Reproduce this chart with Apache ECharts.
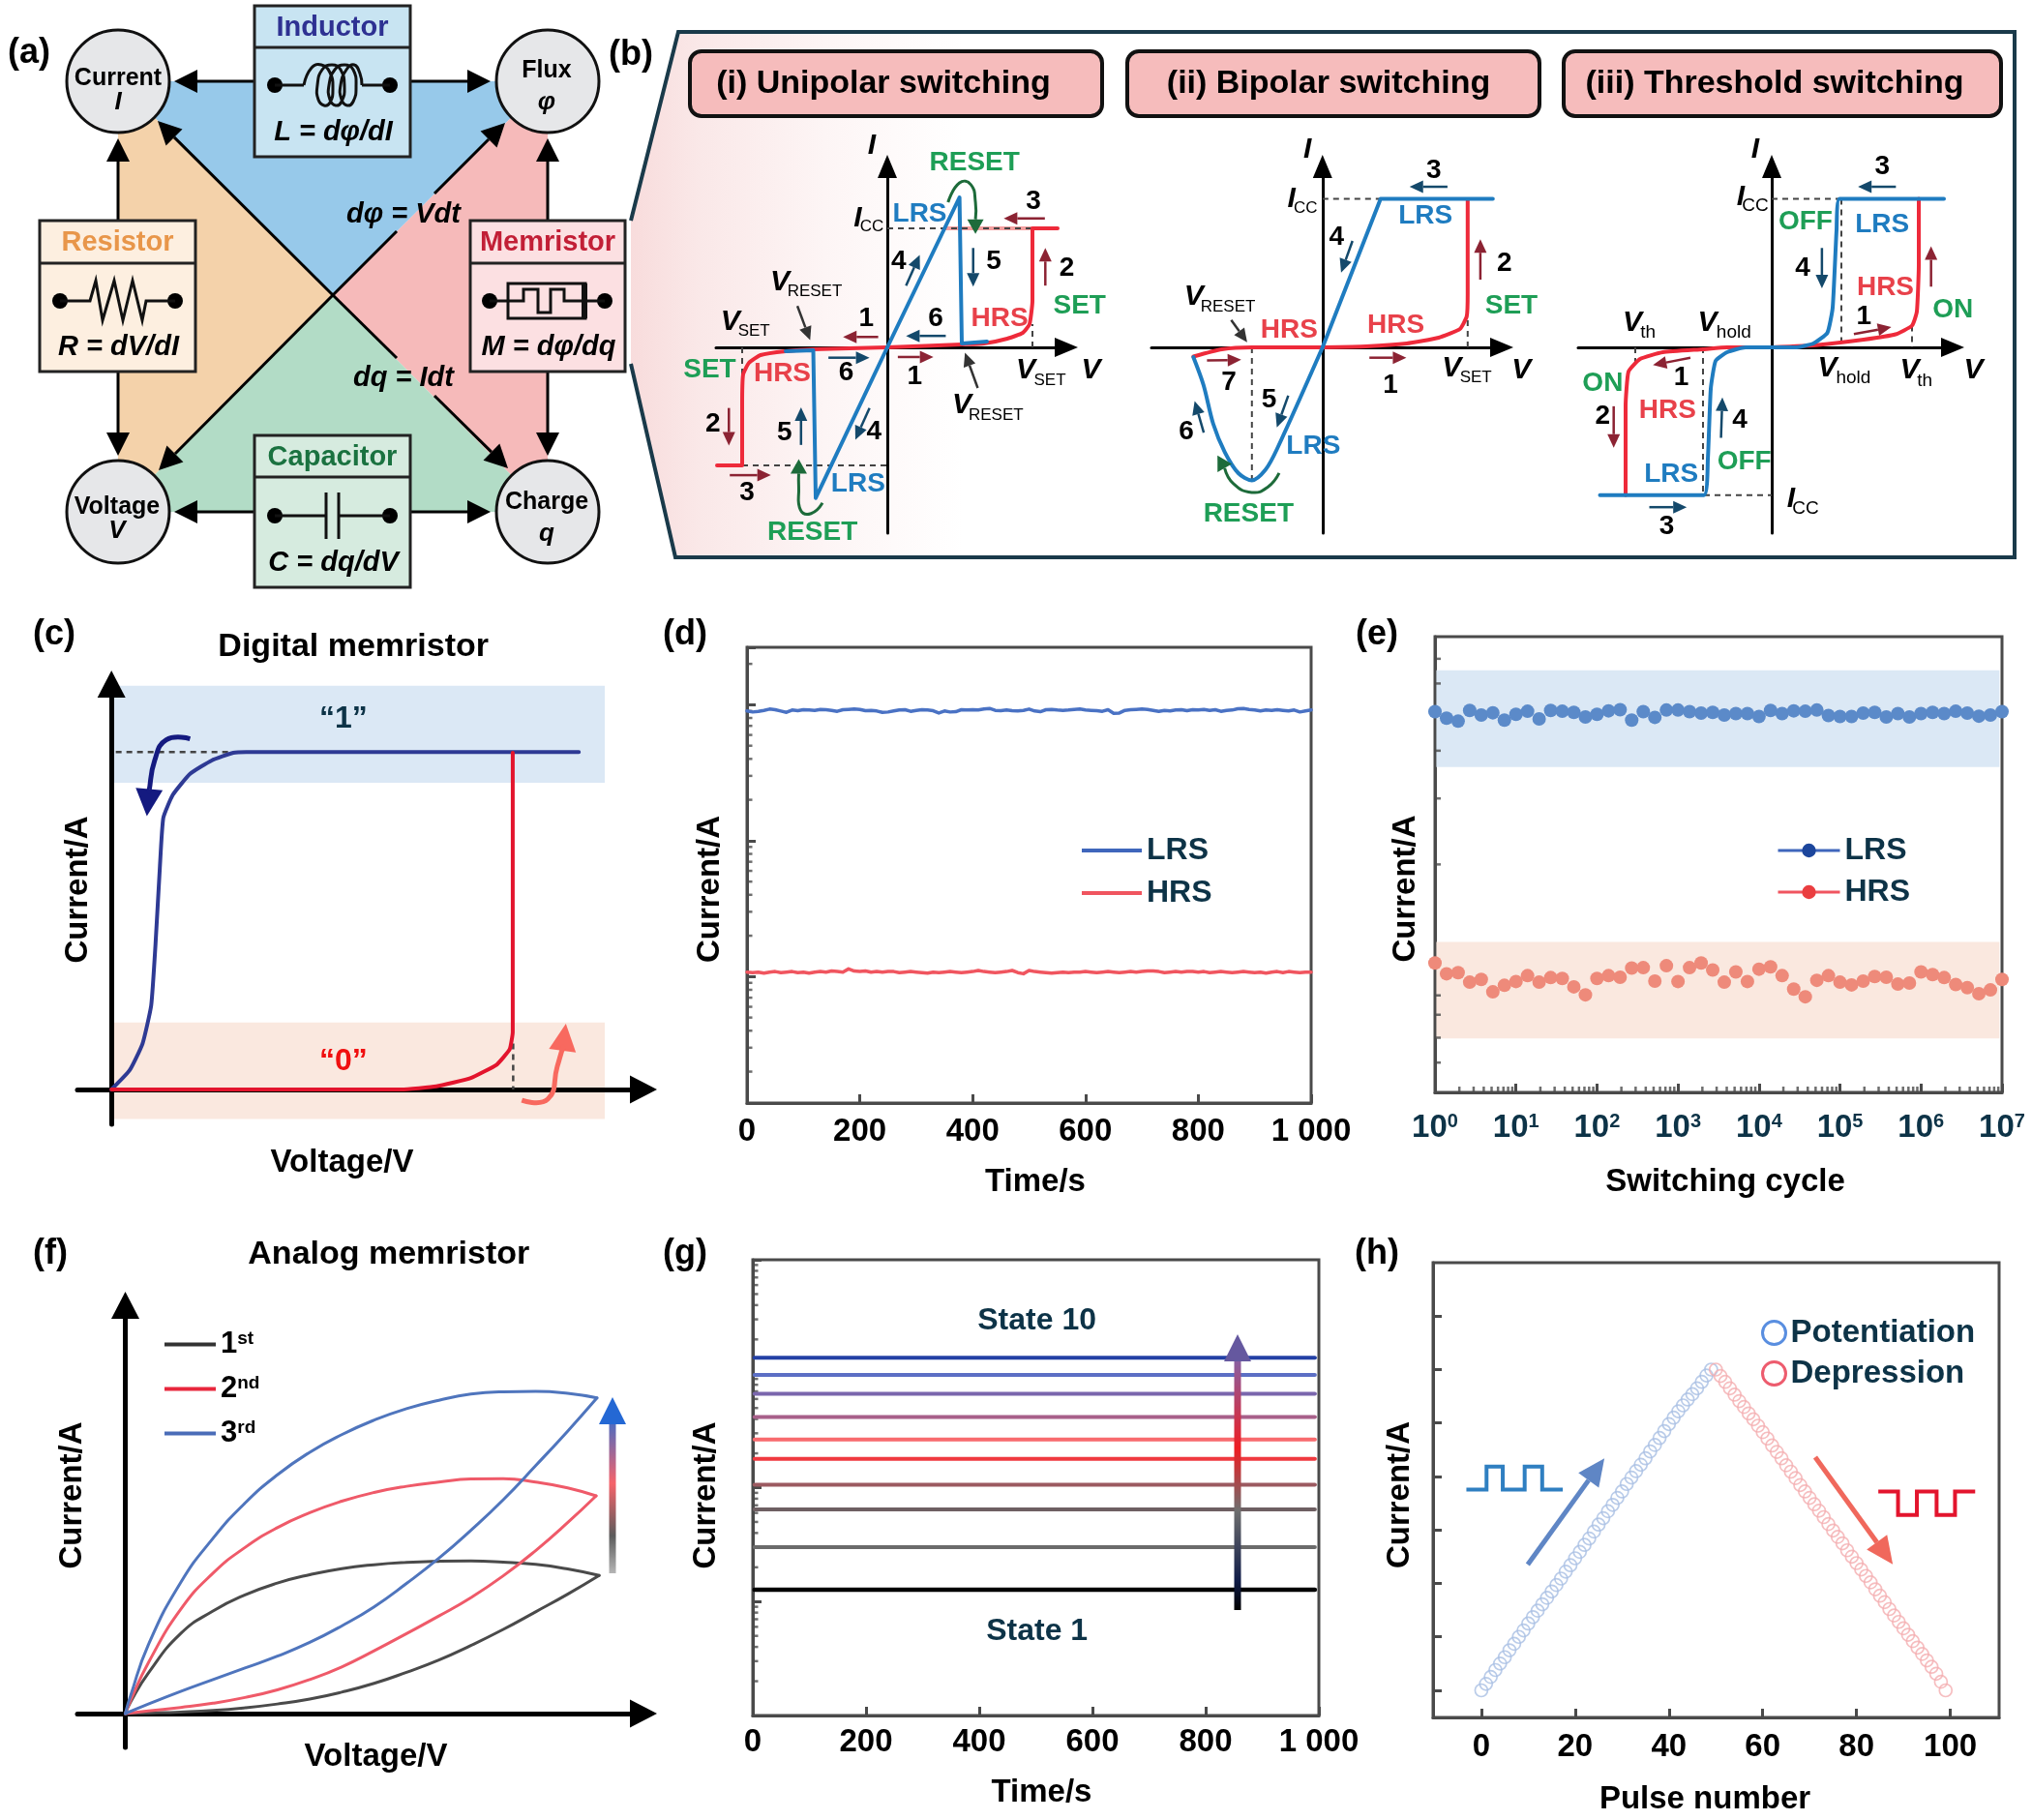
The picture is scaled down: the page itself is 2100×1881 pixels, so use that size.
<!doctype html>
<html><head><meta charset="utf-8">
<style>html,body{margin:0;background:#fff}#c{width:2100px;height:1881px}</style>
<script src="https://cdn.jsdelivr.net/npm/echarts@6/dist/echarts.min.js"></script>
</head><body><div id="c"></div>
<script>
// ---------- DATA: panel b (V, I in schematic units) ----------
const uniRedPos=[[0,0],[.77,.03],[1,.04],[1.24,.09],[1.4,.15],[1.47,.24],[1.5,.48],[1.5,1.23],[1.76,1.23]];
const uniRedNeg=[[0,0],[-.765,-.02],[-1.05,-.04],[-1.31,-.08],[-1.43,-.16],[-1.49,-.28],[-1.5,-.6],[-1.5,-1.22],[-1.76,-1.22]];
const uniBluePos=[[0,0],[.746,1.55],[.77,.04],[1.03,.06]];
const uniBlueNeg=[[0,0],[-.74,-1.556],[-.765,-.03],[-1.05,-.04]];
const uniDash=[[[0,1.23],[1.5,1.23]],[[1.5,0],[1.5,.24]],[[-1.5,-.28],[-1.5,0]],[[-1.5,-1.22],[0,-1.22]]];
const biRedPos=[[0,0],[.45,.01],[.87,.04],[1.2,.1],[1.42,.19],[1.49,.32],[1.5,.55],[1.5,1.53]];
const biBluePos=[[0,0],[.6,1.534],[1.76,1.534]];
const biBlueNeg=[[0,0],[-.47,-1.05],[-.59,-1.265],[-.73,-1.374],[-.87,-1.3],[-1.01,-1.083],[-1.13,-.79],[-1.23,-.39],[-1.335,-.1]];
const biRedNeg=[[0,0],[-.73,0],[-1.04,-.02],[-1.335,-.095]];
const biDash=[[[0,1.534],[.6,1.534]],[[1.5,0],[1.5,.3]],[[-.73,0],[-.73,-1.374]]];
const thRedPos=[[0,0],[.48,.025],[.95,.08],[1.28,.135],[1.45,.225],[1.5,.37],[1.52,.85],[1.52,1.534]];
const thBluePos=[[0,0],[.245,0],[.43,.04],[.575,.15],[.63,.41],[.67,1.21],[.7,1.534],[1.78,1.534]];
const thRedNeg=[[0,0],[-.46,0],[-.71,-.02],[-1.125,-.05],[-1.36,-.12],[-1.48,-.25],[-1.51,-.61],[-1.51,-1.527]];
const thBlueNeg=[[0,0],[-.27,0],[-.46,-.05],[-.58,-.14],[-.63,-.43],[-.66,-1.155],[-.7,-1.527],[-1.775,-1.527]];
const thDash=[[[0,1.534],[.7,1.534]],[[.72,1.534],[.72,0]],[[1.45,.225],[1.45,0]],[[-1.41,0],[-1.41,-.15]],[[-.71,0],[-.71,-1.527]],[[-.7,-1.527],[0,-1.527]]];
// ---------- panel c ----------
const cBlue=[[0,0],[4.2,5],[7.2,12],[9.2,22],[10.2,38],[11.2,58],[12,71],[14.2,77],[18.2,82.5],[23.2,86],[28.2,88],[31.2,88.2],[108.2,88.2]];
const cRed=[[0,0],[67.2,0],[75.2,.8],[83.2,3],[89.2,6.5],[92.2,10.5],[92.9,15],[92.9,88]];
const cDash=[[[1,88.2],[28,88.2]],[[93,12],[93,0]]];
// ---------- panel d ----------
const dLRS=[9.0,8.85,8.95,9.1,9.3,9.2,9.0,8.8,9.15,9.05,9.2,9.15,9.1,9.25,9.2,9.1,8.95,9.2,9.25,9.3,9.25,9.05,9.1,9.0,8.8,8.85,9.0,9.15,9.2,8.95,9.1,9.2,9.15,9.05,8.7,9.0,8.85,8.9,9.2,9.15,9.2,9.15,9.3,9.4,9.1,9.05,9.15,9.05,9.0,9.1,9.3,9.0,8.9,9.2,9.25,9.15,9.1,9.15,9.25,9.3,9.15,9.1,9.05,8.95,9.2,8.65,8.7,9.1,9.2,9.25,9.3,9.25,9.1,8.95,9.1,9.0,9.15,9.2,9.05,9.2,9.15,9.25,9.1,9.2,8.95,9.1,9.15,9.35,9.4,9.25,9.15,9.0,9.15,9.1,9.2,9.1,9.0,9.15,8.85,9.0,9.15];
const dHRS=[1.08,1.07,1.08,1.06,1.08,1.09,1.07,1.08,1.09,1.07,1.08,1.06,1.08,1.09,1.08,1.1,1.09,1.08,1.14,1.1,1.09,1.1,1.08,1.09,1.08,1.09,1.09,1.07,1.08,1.09,1.08,1.07,1.06,1.08,1.07,1.08,1.09,1.08,1.07,1.08,1.09,1.11,1.09,1.08,1.07,1.08,1.09,1.11,1.07,1.05,1.11,1.09,1.08,1.07,1.06,1.07,1.08,1.07,1.08,1.08,1.09,1.08,1.07,1.08,1.09,1.08,1.07,1.08,1.09,1.08,1.09,1.1,1.1,1.09,1.07,1.08,1.09,1.08,1.09,1.09,1.08,1.09,1.07,1.08,1.09,1.08,1.07,1.08,1.09,1.08,1.07,1.08,1.06,1.08,1.09,1.07,1.09,1.08,1.07,1.08,1.08];
// ---------- panel e (log10 of current, 50 switching samples) ----------
const eLRSlog=[-3.037,-3.085,-3.107,-3.028,-3.062,-3.045,-3.099,-3.056,-3.034,-3.09,-3.028,-3.034,-3.042,-3.076,-3.056,-3.031,-3.023,-3.099,-3.037,-3.079,-3.025,-3.025,-3.037,-3.048,-3.042,-3.062,-3.051,-3.051,-3.073,-3.028,-3.051,-3.031,-3.034,-3.025,-3.065,-3.073,-3.073,-3.048,-3.042,-3.076,-3.051,-3.076,-3.051,-3.042,-3.051,-3.034,-3.048,-3.07,-3.062,-3.037];
const eHRSlog=[-4.887,-4.966,-4.958,-5.028,-5.008,-5.099,-5.051,-5.023,-4.98,-5.028,-4.994,-5,-5.062,-5.121,-5,-4.98,-4.992,-4.924,-4.921,-5.02,-4.907,-5.023,-4.921,-4.887,-4.938,-5.028,-4.952,-5.023,-4.932,-4.915,-4.98,-5.079,-5.135,-5.014,-4.98,-5.028,-5.048,-5.02,-4.986,-4.992,-5.042,-5.034,-4.952,-4.972,-4.994,-5.045,-5.068,-5.113,-5.085,-5.008];
const eMinorY=[2.25e-3,1.48e-3,4.74e-4,2.11e-4,6.9e-5,7.5e-6,5.4e-6,3.66e-6,2.4e-6];
// ---------- panel f ----------
const f1Up=[[0,0],[1.2,3],[5.34,10.6],[12.8,20.9],[20.3,26.8],[27.7,31],[35.2,34.1],[42.7,36.3],[50.1,37.9],[57.6,38.9],[65.1,39.5],[72.6,39.8],[80,39.9],[87.5,39.6],[95,39],[102.4,37.8],[109.7,36.1]];
const f1Down=[[109.7,36.1],[102.4,31.2],[95,26.6],[87.5,22],[80,17.8],[72.6,14],[65.1,10.8],[57.6,7.9],[50.1,5.6],[42.7,3.8],[35.2,2.5],[27.7,1.5],[20.3,.8],[12.8,.4],[5.34,.15],[0,0]];
const f2Up=[[0,0],[1.2,3.4],[5.34,13.3],[12.8,27.2],[20.3,36.7],[27.7,43.4],[35.2,48.6],[42.7,52.5],[50.1,55.5],[57.6,57.8],[65.1,59.4],[72.6,60.5],[80,61.3],[87.5,61.4],[95,60.5],[102.4,59],[109,56.9]];
const f2Down=[[109,56.9],[102.4,49.9],[95,42.6],[87.5,36],[80,30.3],[72.6,25.5],[65.1,20.9],[57.6,16.4],[50.1,12.2],[42.7,8.9],[35.2,6.2],[27.7,4.2],[20.3,2.7],[12.8,1.6],[5.34,.7],[0,0]];
const f3Up=[[0,0],[1.2,4.6],[5.34,18],[12.8,34.2],[20.3,45.8],[27.7,55],[35.2,62.4],[42.7,68.3],[50.1,72.9],[57.6,76.7],[65.1,79.7],[72.6,81.9],[80,83.5],[87.5,84.1],[95,84.2],[102.4,83.7],[109.2,82.5]];
const f3Down=[[109.2,82.5],[102.4,73.8],[95,64.8],[87.5,55.9],[80,47.9],[72.6,40.6],[65.1,34],[57.6,27.9],[50.1,22.9],[42.7,18.6],[35.2,15],[27.7,11.9],[20.3,8.9],[12.8,5.8],[5.34,2.5],[0,0]];
// ---------- panel g ----------
const gLevels=[1.27e-8,3e-8,6.45e-8,1.06e-7,1.79e-7,2.65e-7,4.17e-7,6.65e-7,9.77e-7,1.38e-6];
const gColors=['#000000','#6b6b6b','#6e5f62','#9c5a60','#f0393f','#f86a6e','#a8608a','#7a66ad','#5c6fc5','#2340a5'];
// ---------- panel h ----------
const hPot=[0,.12,.25,.38,.5,.62,.75,.87,1,1.12,1.25,1.37,1.49,1.61,1.73,1.85,1.97,2.09,2.22,2.34,2.47,2.59,2.72,2.84,2.97,3.1,3.22,3.35,3.47,3.6,3.72,3.86,3.98,4.1,4.22,4.34,4.47,4.59,4.72,4.85,4.98,5.1,5.22,5.33,5.44,5.54,5.65,5.77,5.89,6];
const hDep=[6,5.88,5.77,5.65,5.53,5.41,5.3,5.18,5.07,4.95,4.83,4.71,4.58,4.46,4.34,4.21,4.09,3.97,3.84,3.72,3.6,3.48,3.36,3.24,3.11,2.99,2.87,2.75,2.62,2.5,2.38,2.26,2.14,2.02,1.89,1.77,1.65,1.52,1.4,1.28,1.16,1.04,.92,.8,.68,.56,.44,.31,.16,0];

// ---------- helpers ----------
const FF='"Liberation Sans"';
const RED='#ee2a3a',BLUE='#1f7cc0',GREEN='#1e9e56',DB='#14496b',DR='#8c2333',INK='#0d3347';
const grids=[],xAxes=[],yAxes=[],series=[];
function scheme(o){
  const i=grids.length;
  grids.push({left:o.l,top:o.t,width:o.r-o.l,height:o.b-o.t});
  const line=(sym)=>({show:true,onZero:true,symbol:['none','triangle'],symbolSize:sym,lineStyle:{color:'#000',width:o.lw}});
  xAxes.push(Object.assign({type:'value',gridIndex:i,z:3,min:(o.l-o.ox)/o.sx,max:(o.r-o.ox)/o.sx,axisLine:line(o.ah),axisTick:{show:false},axisLabel:{show:false},splitLine:{show:false}},o.xExtra||{}));
  yAxes.push(Object.assign({type:'value',gridIndex:i,z:3,min:(o.oy-o.b)/o.sy,max:(o.oy-o.t)/o.sy,axisLine:line(o.ah),axisTick:{show:false},axisLabel:{show:false},splitLine:{show:false}},o.yExtra||{}));
  return i;
}
function boxed(o){
  const i=grids.length;
  grids.push({left:o.l,top:o.t,width:o.r-o.l,height:o.b-o.t,show:true,borderColor:'#4a4a4a',borderWidth:3});
  xAxes.push(Object.assign({gridIndex:i,nameMoveOverlap:false,splitLine:{show:false},axisLine:{onZero:false,lineStyle:{color:'#4a4a4a',width:3}},axisTick:{inside:true,length:9,lineStyle:{color:'#4a4a4a',width:3}}},o.x));
  yAxes.push(Object.assign({gridIndex:i,nameMoveOverlap:false,splitLine:{show:false},axisLine:{onZero:false,lineStyle:{color:'#4a4a4a',width:3}},axisLabel:{show:false},axisTick:{inside:true,length:9,lineStyle:{color:'#4a4a4a',width:3}}},o.y));
  return i;
}
const nameSt=(pad)=>({fontSize:33,fontWeight:'bold',fontFamily:FF,color:'#000',padding:pad});
const L=(g,name,data,color,width,extra)=>series.push(Object.assign({type:'line',name,data,xAxisIndex:g,yAxisIndex:g,symbol:'none',clip:false,z:4,silent:true,lineStyle:{color,width,cap:'round',join:'round'},itemStyle:{color},animation:false},extra||{}));
const dash=(g,segs,w)=>segs.forEach(s=>L(g,'',s,'#444',w||2,{lineStyle:{color:'#444',width:w||2,type:[6,5]},z:3}));
const tickSeries=(g,data,size,off)=>series.push({type:'scatter',data,xAxisIndex:g,yAxisIndex:g,symbol:'rect',symbolSize:size,symbolOffset:off,itemStyle:{color:'#4a4a4a'},silent:true,clip:false,z:3,animation:false});
const logMinors=(a,b,lo,hi)=>{const r=[];for(let k=a;k<=b;k++)for(let m=2;m<=9;m++){const v=m*10**k;if(v>lo&&v<hi)r.push(v);}return r;};
const axisLab=(m,extra)=>Object.assign({fontSize:33,fontWeight:'bold',fontFamily:FF,color:'#000',margin:m,showMinLabel:true,showMaxLabel:true},extra||{});
const thous=v=>v===1000?'1 000':String(v);

// ---------- panel b grids ----------
const gI=scheme({ox:917,oy:359,sx:100,sy:100,l:740,r:1102,t:172,b:551,lw:3,ah:[20,24]});
dash(gI,uniDash);
L(gI,'',[[.59,1.23],[1.5,1.23]],'#f5a0a0',4,{z:2});
L(gI,'HRS+',uniRedPos,RED,4,{smooth:.15});L(gI,'HRS-',uniRedNeg,RED,4,{smooth:.15});
L(gI,'LRS+',uniBluePos,BLUE,4);L(gI,'LRS-',uniBlueNeg,BLUE,4);
const gII=scheme({ox:1366.8,oy:359,sx:100,sy:100,l:1190,r:1552,t:172,b:551,lw:3,ah:[20,24]});
dash(gII,biDash);
L(gII,'HRS+',biRedPos,RED,4,{smooth:.15});L(gII,'HRS-',biRedNeg,RED,4,{smooth:.2});
L(gII,'LRS+',biBluePos,BLUE,4);L(gII,'LRS-',biBlueNeg,BLUE,4,{smooth:.3});
const gIII=scheme({ox:1831,oy:359,sx:100,sy:100,l:1631,r:2018,t:172,b:551,lw:3,ah:[20,24]});
dash(gIII,thDash);
L(gIII,'HRS+',thRedPos,RED,4,{smooth:.15});L(gIII,'HRS-',thRedNeg,RED,4,{smooth:.15});
L(gIII,'LRS+',thBluePos,BLUE,4,{smooth:.15});L(gIII,'LRS-',thBlueNeg,BLUE,4,{smooth:.15});

// ---------- panel c ----------
const gC=scheme({ox:115.2,oy:1126,sx:4.464,sy:3.954,l:80,r:665,t:707,b:1162,lw:5,ah:[29,28],
  xExtra:{name:'Voltage/V',nameLocation:'middle',nameGap:23,nameMoveOverlap:false,nameTextStyle:nameSt([0,38,0,0])},
  yExtra:{name:'Current/A',nameLocation:'middle',nameGap:-17,nameMoveOverlap:false,nameTextStyle:nameSt([0,0,0,30])}});
dash(gC,cDash,2.5);
L(gC,'"1" state',cBlue,'#2e3a94',4,{smooth:.15,markArea:{silent:true,data:[[{xAxis:.4,yAxis:105.5,itemStyle:{color:'#dbe8f5'}},{xAxis:114.2,yAxis:80.2}],[{xAxis:.4,yAxis:17.5,itemStyle:{color:'#fae8df'}},{xAxis:114.2,yAxis:-7.7}]]}});
L(gC,'"0" state',cRed,'#e3142d',4,{smooth:.12});

// ---------- panel d ----------
const dMin=10**-5.93,dMax=10**-2.577;
const gD=boxed({l:772,r:1355,t:669,b:1140,
  x:{type:'value',min:0,max:1000,interval:200,axisLabel:axisLab(13,{formatter:thous}),name:'Time/s',nameLocation:'middle',nameGap:65,nameTextStyle:nameSt([0,0,0,13])},
  y:{type:'log',logBase:10,min:dMin,max:dMax,name:'Current/A',nameLocation:'middle',nameGap:22,nameTextStyle:nameSt([0,29,0,0])}});
const dT=(arr,sc)=>arr.map((v,i)=>[i*1000/(arr.length-1),v*sc]);
L(gD,'LRS',dT(dLRS,1e-4),'#4a72c4',3.5,{clip:true});
L(gD,'HRS',dT(dHRS,1e-5),'#f0555f',3.5,{clip:true});
tickSeries(gD,logMinors(-6,-3,dMin,dMax).map(v=>[0,v]),[5,2.5],[3,0]);

// ---------- panel e ----------
const eMinExp=-5.839,eMaxExp=-2.485;
const gE=boxed({l:1483,r:2069,t:658,b:1129,
  x:{type:'log',logBase:10,min:1,max:1e7,name:'Switching cycle',nameLocation:'middle',nameGap:76,nameTextStyle:nameSt([0,0,0,14]),
     axisLabel:axisLab(20,{formatter:v=>`{b|10}{s|${Math.round(Math.log10(v))}}`,rich:{b:{fontSize:33,fontWeight:'bold',fontFamily:FF,color:INK},s:{fontSize:20,fontWeight:'bold',fontFamily:FF,color:INK,verticalAlign:'top'}}})},
  y:{type:'log',logBase:10,min:10**eMinExp,max:10**eMaxExp,name:'Current/A',nameLocation:'middle',nameGap:14,nameTextStyle:nameSt([0,50,0,0]),axisTick:{show:false}}});
const eX=i=>10**(i/7);
const band=(a,b,c)=>[{xAxis:1.04,yAxis:10**a,itemStyle:{color:c}},{xAxis:9.3e6,yAxis:10**b}];
L(gE,'LRS ',eLRSlog.map((v,i)=>[eX(i),10**v]),'#5b8ac9',0,{symbol:'circle',symbolSize:14,showAllSymbol:true,lineStyle:{width:0,opacity:0},itemStyle:{color:'#5b8ac9'},markArea:{silent:true,data:[band(-2.732,-3.445,'#dbe8f5'),band(-4.732,-5.442,'#fae8df')]}});
L(gE,'HRS ',eHRSlog.map((v,i)=>[eX(i),10**v]),'#ee8a7a',0,{symbol:'circle',symbolSize:14,showAllSymbol:true,lineStyle:{width:0,opacity:0},itemStyle:{color:'#ee8a7a'}});
tickSeries(gE,eMinorY.map(v=>[1,v]),[6,2.5],[3,0]);
tickSeries(gE,logMinors(0,6,1,1e7).map(v=>[v,10**eMinExp]),[2.5,6],[0,-3]);

// ---------- panel f ----------
const gF=scheme({ox:129.5,oy:1771,sx:4.464,sy:3.954,l:80,r:665,t:1349,b:1806,lw:5,ah:[29,28],
  xExtra:{name:'Voltage/V',nameLocation:'middle',nameGap:-7,nameMoveOverlap:false,nameTextStyle:nameSt([0,0,0,32])},
  yExtra:{name:'Current/A',nameLocation:'middle',nameGap:-11,nameMoveOverlap:false,nameTextStyle:nameSt([0,0,0,64])}});
[['1st',f1Up,f1Down,'#4a4a4a'],['2nd',f2Up,f2Down,'#ef5a69'],['3rd',f3Up,f3Down,'#4f75bd']].forEach(s=>{
  L(gF,s[0],s[1],s[3],3,{smooth:.5});L(gF,s[0],s[2],s[3],3,{smooth:.5});
});

// ---------- panel g ----------
const gG=boxed({l:778,r:1363,t:1302,b:1773,
  x:{type:'value',min:0,max:1000,interval:200,axisLabel:axisLab(11,{formatter:thous,color:v=>v===1000?INK:'#000'}),name:'Time/s',nameLocation:'middle',nameGap:63,nameTextStyle:nameSt([0,0,0,12])},
  y:{type:'log',logBase:10,min:1e-9,max:1e-5,name:'Current/A',nameLocation:'middle',nameGap:32,nameTextStyle:nameSt([0,16,0,0])}});
gLevels.forEach((v,i)=>L(gG,'State '+(i+1),[[3,v],[500,v],[993,v]],gColors[i],i===0?4.5:4));
tickSeries(gG,logMinors(-9,-6,1e-9,1e-5).map(v=>[0,v]),[5,2.5],[3,0]);

// ---------- panel h ----------
const hHollow=(c)=>({color:'rgba(255,255,255,0)',borderColor:c,borderWidth:1.7});
const gH=boxed({l:1481,r:2066,t:1305,b:1775,
  x:{type:'value',min:-10.3,max:110.4,axisTick:{inside:true,length:9,customValues:[0,20,40,60,80,100],lineStyle:{color:'#4a4a4a',width:3}},
     axisLabel:axisLab(14,{customValues:[0,20,40,60,80,100],color:v=>v===100?INK:'#000'}),name:'Pulse number',nameLocation:'middle',nameGap:68,nameTextStyle:nameSt([0,23,0,0])},
  y:{type:'value',min:-.507,max:8,axisTick:{inside:true,length:9,customValues:[0,1,2,3,4,5,6,7],lineStyle:{color:'#4a4a4a',width:3}},name:'Current/A',nameLocation:'middle',nameGap:18,nameTextStyle:nameSt([0,10,0,0])}});
series.push({type:'scatter',name:'Potentiation',xAxisIndex:gH,yAxisIndex:gH,data:hPot.map((v,i)=>[i,v]),symbol:'circle',symbolSize:13,itemStyle:hHollow('#a9bfe4'),silent:true,animation:false,z:4});
series.push({type:'scatter',name:'Depression',xAxisIndex:gH,yAxisIndex:gH,data:hDep.map((v,i)=>[50+i,v]),symbol:'circle',symbolSize:13,itemStyle:hHollow('#f4aeb0'),silent:true,animation:false,z:4});

// ---------- legends ----------
const legBase={orient:'vertical',padding:0,selectedMode:false,align:'left',textStyle:{fontSize:32,fontWeight:'bold',fontFamily:FF,color:INK}};
const legends=[
 Object.assign({},legBase,{left:1118,top:863,itemWidth:62,itemHeight:4,itemGap:12,data:[
   {name:'LRS',icon:'rect',itemStyle:{color:'#3f66bc'}},{name:'HRS',icon:'rect',itemStyle:{color:'#f0555f'}}]}),
 Object.assign({},legBase,{left:1836,top:863,itemWidth:64,itemHeight:18,itemGap:11,symbolSize:17,data:[
   {name:'LRS ',itemStyle:{color:'#1c469c'},lineStyle:{color:'#3f66bc',width:3,opacity:1}},{name:'HRS ',itemStyle:{color:'#ea3e40'},lineStyle:{color:'#f0555f',width:3,opacity:1}}]}),
 {orient:'vertical',padding:0,selectedMode:false,align:'left',left:170,top:1374,itemWidth:53,itemHeight:4,itemGap:15,
  formatter:n=>`{b|${n[0]}}{s|${n.slice(1)}}`,
  textStyle:{rich:{b:{fontSize:31,fontWeight:'bold',fontFamily:FF,color:'#000'},s:{fontSize:19,fontWeight:'bold',fontFamily:FF,color:'#000',verticalAlign:'top'}}},
  data:[{name:'1st',icon:'rect',itemStyle:{color:'#333'}},{name:'2nd',icon:'rect',itemStyle:{color:'#e8273c'}},{name:'3rd',icon:'rect',itemStyle:{color:'#4a6cb8'}}]},
 Object.assign({},legBase,{left:1820,top:1361,itemWidth:24,itemHeight:24,itemGap:9,textStyle:{fontSize:33,fontWeight:'bold',fontFamily:FF,color:INK},data:[
   {name:'Potentiation',icon:'circle',itemStyle:{color:'#fff',borderColor:'#2f72d8',borderWidth:3}},{name:'Depression',icon:'circle',itemStyle:{color:'#fff',borderColor:'#e8334a',borderWidth:3}}]})
];

// ---------- annotation graphics ----------
const G=[];
const txt=(x,y,s,font,fill)=>G.push({type:'text',z:60,silent:true,style:{x,y,text:s,font:font+' '+FF,fill:fill||'#000',align:'center',verticalAlign:'middle',textAlign:'center',textVerticalAlign:'middle'}});
const seg=(x1,y1,x2,y2,c,w)=>G.push({type:'line',z:55,silent:true,shape:{x1,y1,x2,y2},style:{stroke:c,lineWidth:w}});
const poly=(pts,fill,z)=>G.push({type:'polygon',z:z||55,silent:true,shape:{points:pts},style:{fill}});
const pline=(pts,c,w,smooth,z)=>G.push({type:'polyline',z:z||55,silent:true,shape:{points:pts,smooth:smooth||0},style:{stroke:c,lineWidth:w,fill:'none',lineJoin:'miter'}});
const head=(bx,by,tx,ty,c,hw,hl)=>{const a=Math.atan2(ty-by,tx-bx),cx=tx-hl*Math.cos(a),cy=ty-hl*Math.sin(a),n=hw/2;poly([[tx,ty],[cx-n*Math.sin(a),cy+n*Math.cos(a)],[cx+n*Math.sin(a),cy-n*Math.cos(a)]],c);return[cx,cy];};
const arrow=(x1,y1,x2,y2,c,w,hw,hl)=>{const b=head(x1,y1,x2,y2,c,hw,hl);seg(x1,y1,b[0],b[1],c,w);};
const curve=(pts,c,w,hw,hl)=>{const t=pts[pts.length-1],p=pts[pts.length-2],b=head(p[0],p[1],t[0],t[1],c,hw,hl);pline(pts.slice(0,-1).concat([b]),c,w,.5);};
const mk=(ox,oy,sx,sy)=>(x,y)=>[ox+x/sx,oy+y/sy];
const Z2=mk(640,20,2.119,2.751),Z3=mk(1360,20,2.119,2.751),Z4=mk(0,620,2.24,2.529),Z7=mk(0,1260,2.24,2.529),Z8=mk(680,1260,2.178,2.529),Z9=mk(1390,1260,2.208,2.529);
const tz=(Z,x,y,s,f,c)=>{const p=Z(x,y);txt(p[0],p[1],s,f,c);};
const az=(Z,x1,y1,x2,y2,c)=>{const a=Z(x1,y1),b=Z(x2,y2);arrow(a[0],a[1],b[0],b[1],c,2.5,13,14);};

// outline of panel b
G.push({type:'polygon',z:-10,silent:true,shape:{points:[[652,228],[701,33],[2082,33],[2082,576],[698,576],[652,376]]},style:{lineWidth:0,fill:{type:'linear',x:0,y:0,x2:1,y2:0,colorStops:[{offset:0,color:'#f8dcdc'},{offset:.05,color:'#fae8e8'},{offset:.14,color:'#fdf5f5'},{offset:.24,color:'#ffffff'},{offset:1,color:'#ffffff'}]}}});
pline([[652,228],[701,33],[2082,33],[2082,576],[698,576],[652,376]],'#1a3a4a',4,0,5);
[[713,53,426,'(i) Unipolar switching',913],[1165,53,426,'(ii) Bipolar switching',1373],[1616,53,452,'(iii) Threshold switching',1834]].forEach(b=>{
  G.push({type:'rect',z:6,silent:true,shape:{x:b[0],y:b[1],width:b[2],height:67,r:12},style:{fill:'#f6bcbc',stroke:'#111',lineWidth:4}});
  txt(b[4],87,b[3],'bold 34px');
});
// panel tags
[[30,55,'(a)'],[652,57,'(b)'],[56,656,'(c)'],[708,656,'(d)'],[1423,656,'(e)'],[52,1296,'(f)'],[708,1296,'(g)'],[1423,1296,'(h)']].forEach(a=>txt(a[0],a[1],a[2],'bold 36px'));

// ---- panel a ----
poly([[122,84],[566,84],[344,305]],'#97c9ea',1);
poly([[122,84],[344,305],[122,529]],'#f4d2aa',1);
poly([[566,84],[344,305],[566,529]],'#f6baba',1);
poly([[122,529],[344,305],[566,529]],'#b2dcc6',1);
const AK=(x1,y1,x2,y2)=>arrow(x1,y1,x2,y2,'#000',3,24,24);
AK(344,305,163,125);AK(344,305,164,486);
seg(344,305,410,239,'#000',3);AK(449,200,522,127);
seg(344,305,410,370,'#000',3);AK(449,409,525,484);
AK(122,228,122,143);AK(566,228,566,143);AK(122,384,122,471);AK(566,384,566,471);
AK(263,84,180,84);AK(424,84,507,84);AK(263,529,180,529);AK(424,529,507,529);
const box=(x,y,w,hh,h,fill,title,col,form)=>{
  G.push({type:'rect',z:56,silent:true,shape:{x,y,width:w,height:h},style:{fill,stroke:'#222',lineWidth:3}});
  seg(x,y+hh,x+w,y+hh,'#222',3);G[G.length-1].z=57;
  txt(x+w/2,y+hh/2+1,title,'bold 29px',col);txt(x+w/2+1,y+h-25,form,'italic bold 29px');
};
box(263,6,161,43,156,'#c8e4f2','Inductor','#2e3192','L = dφ/dI');
box(41,228,161,44,156,'#fdefe0','Resistor','#e8964a','R = dV/dI');
box(486,228,160,44,156,'#fce0e2','Memristor','#c21f36','M = dφ/dq');
box(263,450,161,43,157,'#d6ebdf','Capacitor','#1a7240','C = dq/dV');
const dot=(cx,cy)=>G.push({type:'circle',z:58,silent:true,shape:{cx,cy,r:8},style:{fill:'#000'}});
const sym=(pts,smooth)=>pline(pts,'#111',3,smooth,58);
// inductor
dot(284,88);dot(403,88);sym([[284,88],[314,88]]);sym([[374,88],[403,88]]);
sym([[314,88],[322,70],[332,67],[341,75],[344,92],[341,106],[335,109],[329,103],[328,88],[333,72],[343,67],[352,72],[356,90],[353,105],[347,109],[341,103],[340,88],[346,72],[356,67],[365,72],[368,90],[365,105],[359,109],[353,103],[352,88],[358,72],[366,67],[372,76],[374,88]],.5);
// resistor
dot(62,311);dot(181,311);sym([[62,311],[93,311],[99,290],[106,331],[118,290],[127,331],[137,290],[147,331],[151,311],[181,311]]);
// memristor
dot(506,311);dot(625,311);sym([[506,311],[525,311]]);sym([[606,311],[625,311]]);
G.push({type:'rect',z:58,silent:true,shape:{x:525,y:293,width:80,height:36},style:{fill:'none',stroke:'#111',lineWidth:3}});
G.push({type:'rect',z:58,silent:true,shape:{x:601,y:293,width:6,height:36},style:{fill:'#111'}});
sym([[525,311],[541,311],[541,299],[556,299],[556,323],[569,323],[569,299],[583,299],[583,311],[601,311]]);
// capacitor
dot(284,533);dot(403,533);sym([[284,533],[337,533]]);sym([[350,533],[403,533]]);sym([[337,509],[337,557]]);sym([[350,509],[350,557]]);
// nodes
[[122,84],[566,84],[122,529],[566,529]].forEach(c=>G.push({type:'circle',z:56,silent:true,shape:{cx:c[0],cy:c[1],r:53},style:{fill:'#e6e7e9',stroke:'#111',lineWidth:3}}));
txt(122,81,'Current','bold 25px');txt(122,106,'I','italic bold 26px');
txt(565,73,'Flux','bold 25px');txt(565,106,'φ','italic bold 26px');
txt(121,524,'Voltage','bold 25px');txt(121,549,'V','italic bold 26px');
txt(565,519,'Charge','bold 25px');txt(565,552,'q','italic bold 26px');
txt(417,222,'dφ = Vdt','italic bold 29px');txt(417,391,'dq = Idt','italic bold 29px');

// ---- panel b annotations ----
const F='bold 28px',IT='italic bold 30px',SUB='17px';
const many=(Z,list,f,c)=>list.forEach(a=>tz(Z,a[0],a[1],a[2],f,c));
// (i)
many(Z2,[[541,852,'1'],[907,518,'3'],[612,688,'4'],[820,688,'5'],[980,708,'2'],[693,852,'6'],[497,1005,'6'],[647,1017,'1'],[205,1150,'2'],[362,1175,'5'],[558,1172,'4'],[280,1345,'3']],F);
many(Z2,[[778,408,'RESET'],[1008,815,'SET'],[198,998,'SET'],[423,1458,'RESET']],F,GREEN);
many(Z2,[[658,555,'LRS'],[523,1322,'LRS']],F,BLUE);
many(Z2,[[833,850,'HRS'],[357,1008,'HRS']],F,'#e8414a');
many(Z2,[[553,360,'I'],[522,565,'I'],[352,748,'V'],[243,860,'V'],[890,998,'V'],[1033,998,'V'],[750,1097,'V']],IT);
many(Z2,[[553,590,'CC'],[428,775,'RESET'],[295,888,'SET'],[943,1027,'SET'],[825,1125,'RESET']],SUB);
[[628,757,658,670,DB],[775,650,775,760,DB],[933,757,933,650,DR],[567,903,490,903,DR],[715,900,628,900,DB],[458,962,548,962,DB],[610,960,688,960,DR],[240,1105,240,1212,DR],[398,1210,398,1103,DB],[548,1105,517,1195,DB],[242,1296,332,1296,DR],[932,566,842,566,DR],[390,815,418,912,'#333'],[785,1048,757,948,'#333']].forEach(a=>az(Z2,a[0],a[1],a[2],a[3],a[4]));
const GA='#1d6b3a';
curve([[720,520],[745,465],[770,470],[780,520],[780,610]].map(p=>Z2(p[0],p[1])),GA,3,17,15);
curve([[445,1375],[420,1405],[397,1395],[393,1330],[393,1250]].map(p=>Z2(p[0],p[1])),GA,3,17,15);
// (ii)
many(Z2,[[1335,1033,'7'],[1423,1082,'5'],[1242,1172,'6']],F);
many(Z3,[[45,620,'4'],[258,430,'3'],[413,695,'2'],[163,1042,'1']],F);
many(Z3,[[240,560,'LRS']],F,BLUE);tz(Z2,1520,1213,'LRS',F,BLUE);
many(Z3,[[175,870,'HRS']],F,'#e8414a');tz(Z2,1467,885,'HRS',F,'#e8414a');
tz(Z3,428,815,'SET',F,GREEN);tz(Z2,1378,1407,'RESET',F,GREEN);
many(Z2,[[1507,372,'I'],[1472,512,'I'],[1258,790,'V']],IT);many(Z3,[[297,992,'V'],[450,997,'V']],IT);
many(Z2,[[1503,538,'CC'],[1333,818,'RESET']],SUB);tz(Z3,350,1020,'SET',SUB);
[[80,630,55,720,DB],[288,476,205,476,DB],[360,740,360,625,DR],[117,962,198,962,DR]].forEach(a=>az(Z3,a[0],a[1],a[2],a[3],a[4]));
[[1340,855,1375,918,'#333'],[1287,970,1362,968,DR],[1465,1070,1440,1160,DB],[1280,1175,1260,1085,DB]].forEach(a=>az(Z2,a[0],a[1],a[2],a[3],a[4]));
curve([[1445,1290],[1420,1330],[1385,1345],[1345,1320],[1310,1240]].map(p=>Z2(p[0],p[1])),GA,3,17,15);
// (iii)
many(Z3,[[1240,420,'3'],[1066,707,'4'],[1200,845,'1'],[800,1018,'1'],[628,1130,'2'],[928,1140,'4'],[768,1443,'3']],F);
many(Z3,[[1072,577,'OFF'],[1395,827,'ON'],[628,1035,'ON'],[938,1258,'OFF']],F,GREEN);
many(Z3,[[1240,585,'LRS'],[778,1295,'LRS']],F,BLUE);
many(Z3,[[1247,762,'HRS'],[770,1112,'HRS']],F,'#e8414a');
many(Z3,[[962,372,'I'],[930,505,'I'],[693,862,'V'],[857,862,'V'],[1120,993,'V'],[1300,998,'V'],[1440,997,'V'],[1040,1365,'I']],IT);
many(Z3,[[962,530,'CC'],[727,890,'th'],[915,890,'hold'],[1177,1020,'hold'],[1333,1027,'th'],[1072,1392,'CC']],'19px');
[[1270,476,1187,476,DB],[1108,650,1108,765,DB],[1347,760,1347,645,DR],[1178,895,1260,875,DR],[820,962,738,983,DR],[652,1100,652,1218,DR],[887,1190,890,1075,DB],[730,1387,812,1387,DB]].forEach(a=>az(Z3,a[0],a[1],a[2],a[3],a[4]));

// ---- panel c annotations ----
tz(Z4,818,122,'Digital memristor','bold 34px');
tz(Z4,795,312,'“1”','bold 32px',INK);
tz(Z4,795,1208,'“0”','bold 32px','#f01010');
curve([[440,363],[385,366],[358,420],[345,500],[340,565]].map(p=>Z4(p[0],p[1])),'#141a80',5,28,28);
curve([[1208,1308],[1268,1305],[1290,1220],[1303,1170],[1310,1108]].map(p=>Z4(p[0],p[1])),'#f8695f',5,28,28);

// ---- panel f annotations ----
tz(Z7,900,92,'Analog memristor','bold 34px');
const gradRect=(x,y1,y2,w,stops)=>G.push({type:'rect',z:55,silent:true,shape:{x:x-w/2,y:y1,width:w,height:y2-y1},style:{fill:{type:'linear',x:0,y:1,x2:0,y2:0,colorStops:stops}}});
gradRect(633,1471,1626,7,[{offset:0,color:'#b5b5b5'},{offset:.25,color:'#5c5c5c'},{offset:.6,color:'#f6636a'},{offset:1,color:'#4f6cc0'}]);
poly([[633,1444],[619,1472],[647,1472]],'#2468d4');

// ---- panel g annotations ----
tz(Z8,853,267,'State 10','bold 32px',INK);
tz(Z8,853,1078,'State 1','bold 32px',INK);
gradRect(1279,1407,1664,7,[{offset:0,color:'#000000'},{offset:.12,color:'#101c48'},{offset:.4,color:'#6e6e6e'},{offset:.65,color:'#ee1c22'},{offset:1,color:'#8a5fa0'}]);
poly([[1279,1379],[1265,1407],[1293,1407]],'#65589f');

// ---- panel h annotations ----
pline([[277,707],[323,707],[323,647],[360,647],[360,707],[410,707],[410,647],[450,647],[450,707],[497,707]].map(p=>Z9(p[0],p[1])),'#2f7fc1',4);
pline([[1217,712],[1262,712],[1262,773],[1305,773],[1305,712],[1350,712],[1350,773],[1392,773],[1392,712],[1438,712]].map(p=>Z9(p[0],p[1])),'#e3142d',4);
(()=>{let a=Z9(417,903),b=Z9(592,625);arrow(a[0],a[1],b[0],b[1],'#5f86c5',5,26,28);a=Z9(1073,622);b=Z9(1250,902);arrow(a[0],a[1],b[0],b[1],'#f0685c',5,26,28);})();

const chart=echarts.init(document.getElementById('c'),null,{renderer:'canvas',width:2100,height:1881});
chart.setOption({backgroundColor:'#fff',animation:false,textStyle:{fontFamily:FF},grid:grids,xAxis:xAxes,yAxis:yAxes,series,legend:legends,graphic:{elements:G},tooltip:{show:false}});
</script></body></html>
